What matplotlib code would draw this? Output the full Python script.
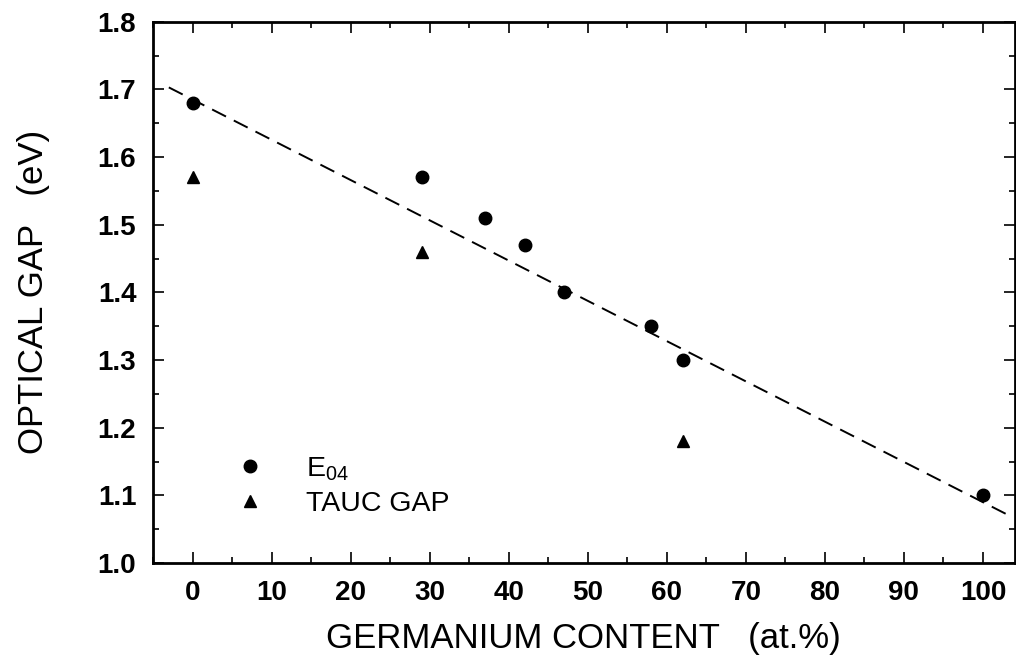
import numpy as np
import matplotlib.pyplot as plt
from matplotlib.ticker import MultipleLocator
from matplotlib.lines import Line2D

plt.rcParams['font.family'] = ['Liberation Sans', 'DejaVu Sans']

# data
ge_e04 = [0, 29, 37, 42, 47, 58, 62, 100]
gap_e04 = [1.68, 1.57, 1.51, 1.47, 1.40, 1.35, 1.30, 1.10]
ge_tauc = [0, 29, 62]
gap_tauc = [1.57, 1.46, 1.18]
fit_x = [-3, 103]
fit_y = [1.703, 1.072]

fig = plt.figure(figsize=(10.16, 6.6), dpi=100)
ax = fig.add_axes([0.1506, 0.147, 0.848, 0.82])

ax.plot(fit_x, fit_y, '--', color='black', lw=1.4, dashes=(8, 4.5))
ax.plot(ge_e04, gap_e04, 'o', color='black', ms=9)
ax.plot(ge_tauc, gap_tauc, '^', color='black', ms=8)

ax.set_xlim(-5, 104)
ax.set_ylim(1.0, 1.8)
ax.xaxis.set_major_locator(MultipleLocator(10))
ax.xaxis.set_minor_locator(MultipleLocator(5))
ax.yaxis.set_major_locator(MultipleLocator(0.1))
ax.yaxis.set_minor_locator(MultipleLocator(0.05))
ax.yaxis.set_major_formatter(plt.FormatStrFormatter('%.1f'))
ax.tick_params(which='both', direction='in', top=True, right=True, width=1.2)
ax.tick_params(which='major', length=8, labelsize=20, pad=12)
ax.tick_params(which='minor', length=4)
for lab in ax.get_xticklabels() + ax.get_yticklabels():
    lab.set_fontweight('bold')
for sp in ax.spines.values():
    sp.set_linewidth(2)

ax.set_xlabel('GERMANIUM CONTENT   (at.%)', fontsize=25, labelpad=12)
ax.set_ylabel('OPTICAL GAP   (eV)', fontsize=25, labelpad=34)

handles = [Line2D([], [], ls='none', marker='o', color='black', ms=9),
           Line2D([], [], ls='none', marker='^', color='black', ms=8)]
ax.legend(handles, [r'E$_{\mathregular{04}}$', 'TAUC GAP'], loc='lower left',
          bbox_to_anchor=(0.05, 0.037), frameon=False, fontsize=20.5,
          handletextpad=0.95, labelspacing=0.3)

fig.savefig('out.png', dpi=100)
